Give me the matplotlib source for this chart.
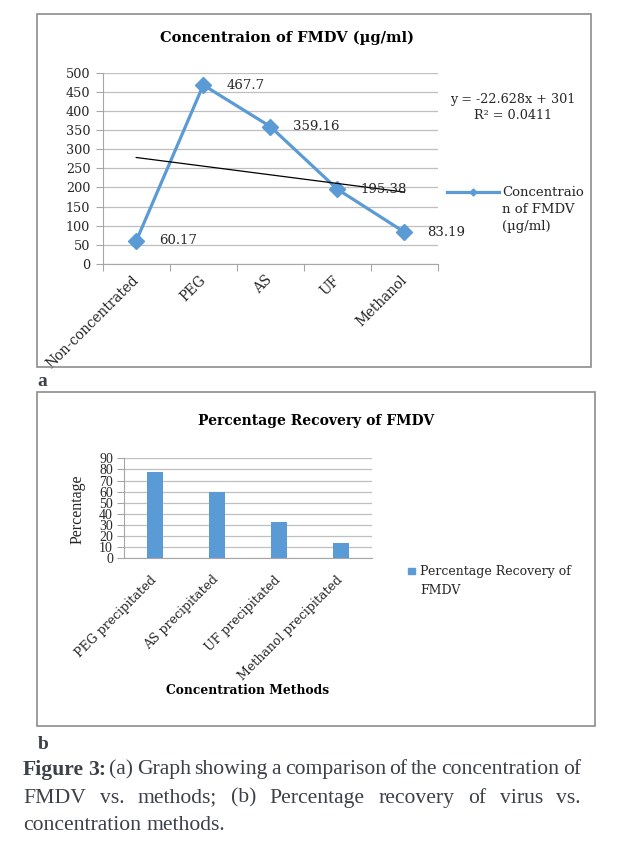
import numpy as np
import matplotlib
matplotlib.use("Agg")
import matplotlib.pyplot as plt
from matplotlib.lines import Line2D
from matplotlib.patches import Rectangle

# --- Data ---
methods_a = ["Non-concentrated", "PEG", "AS", "UF", "Methanol"]
conc = [60.17, 467.7, 359.16, 195.38, 83.19]
conc_labels = ["60.17", "467.7", "359.16", "195.38", "83.19"]

methods_b = ["PEG precipitated", "AS precipitated", "UF precipitated", "Methanol precipitated"]
recovery = [77.6, 59.6, 32.3, 13.9]

W, H = 623, 847
BLUE = "#5B9BD5"
GRID = "#BFBFBF"
AXIS = "#A6A6A6"
TXT = "#262626"
CAP = "#3c4048"

plt.rcParams['font.family'] = ['DejaVu Serif']


def fx(x):
    return x / W


def fy(y):
    return 1 - y / H


fig = plt.figure(figsize=(W / 100, H / 100), dpi=100)
fig.patch.set_facecolor("white")

# --- panel frames ---
for (x0, y0, x1, y1) in [(37.3, 14.3, 590.7, 366.7), (37.3, 392.3, 595, 726)]:
    fig.add_artist(Rectangle((fx(x0), fy(y1)), (x1 - x0) / W, (y1 - y0) / H,
                             transform=fig.transFigure, fill=False,
                             edgecolor="#8c8c8c", lw=1.2))

# --- Panel a: concentration line chart ---
ax1 = fig.add_axes([fx(102.7), fy(264), (438 - 102.7) / W, (264 - 72.7) / H])
x = np.arange(len(methods_a))
ax1.plot(x, conc, color=BLUE, lw=2.3, marker='D', ms=8, zorder=3, clip_on=False)

slope, intercept = np.polyfit(x + 1, conc, 1)
fit = intercept + slope * (x + 1)
r2 = 1 - np.sum((np.array(conc) - fit) ** 2) / np.sum((np.array(conc) - np.mean(conc)) ** 2)
ax1.plot(x, fit, color="black", lw=0.9, zorder=4)

for xi, v, lbl in zip(x, conc, conc_labels):
    ax1.annotate(lbl, (xi, v), xytext=(23, 0), textcoords='offset pixels',
                 ha='left', va='center', fontsize=9.5, color=TXT, zorder=5)

ax1.set_xlim(-0.5, len(methods_a) - 0.5)
ax1.set_ylim(0, 500)
ax1.set_yticks(np.arange(0, 501, 50))
ax1.yaxis.grid(True, color=GRID, lw=0.9)
ax1.set_axisbelow(True)
ax1.set_xticks(np.arange(-0.5, len(methods_a), 1))
ax1.set_xticklabels([])
ax1.set_xticks(x, minor=True)
ax1.set_xticklabels(methods_a, minor=True, rotation=45, ha='right', va='center',
                    rotation_mode='anchor', fontsize=9.8, color=TXT)
ax1.tick_params(axis='x', which='minor', length=0, pad=10)
ax1.tick_params(axis='x', which='major', length=5, color=AXIS, direction='out')
ax1.tick_params(axis='y', length=5, color=AXIS, labelsize=9.2, labelcolor=TXT, pad=4)
for s in ['top', 'right']:
    ax1.spines[s].set_visible(False)
for s in ['left', 'bottom']:
    ax1.spines[s].set_color(AXIS)

fig.text(fx(287), fy(37.5), "Concentraion of FMDV (µg/ml)", ha='center', va='center',
         fontsize=10.5, fontweight='bold', color='black')
fig.text(fx(513), fy(99.3), f"y = {slope:.3f}x + {intercept:.0f}", ha='center', va='center',
         fontsize=9.2, color=TXT)
fig.text(fx(513), fy(115.7), f"R² = {r2:.4f}", ha='center', va='center',
         fontsize=9.2, color=TXT)

# legend a
fig.add_artist(Line2D([fx(446.7), fx(499)], [fy(192.3)] * 2, transform=fig.transFigure,
                      color=BLUE, lw=2.3))
fig.add_artist(Line2D([fx(472.7)], [fy(192.3)], transform=fig.transFigure,
                      color=BLUE, marker='D', ms=3.5))
for yy, t in zip([192.3, 209.5, 226.7], ["Concentraio", "n of FMDV", "(µg/ml)"]):
    fig.text(fx(502), fy(yy), t, ha='left', va='center', fontsize=9.5, color=TXT)

# --- Panel b: percentage recovery bar chart ---
ax2 = fig.add_axes([fx(124), fy(558.3), (372 - 124) / W, 100 / H])
xb = np.arange(len(methods_b))
ax2.bar(xb, recovery, width=0.26, color=BLUE, zorder=3)
ax2.set_xlim(-0.5, len(methods_b) - 0.5)
ax2.set_ylim(0, 90)
ax2.set_yticks(np.arange(0, 91, 10))
ax2.set_yticklabels([str(v) for v in range(0, 91, 10)], family='Liberation Serif',
                    fontsize=10, color=TXT)
ax2.yaxis.grid(True, color=GRID, lw=0.9)
ax2.set_axisbelow(True)
ax2.set_xticks(xb)
ax2.set_xticklabels(methods_b, rotation=45, ha='right', va='center',
                    rotation_mode='anchor', fontsize=9, color=TXT)
ax2.tick_params(axis='x', length=0, pad=14)
ax2.tick_params(axis='y', length=5, color=AXIS, pad=3)
for s in ['top', 'right']:
    ax2.spines[s].set_visible(False)
for s in ['left', 'bottom']:
    ax2.spines[s].set_color(AXIS)

fig.text(fx(78), fy(509), "Percentage", rotation=90, ha='center', va='center',
         family='Liberation Serif', fontsize=11.5, color=TXT)

fig.text(fx(316), fy(421), "Percentage Recovery of FMDV", ha='center', va='center',
         fontsize=10, fontweight='bold', color='black')
fig.text(fx(248), fy(690.7), "Concentration Methods", ha='center', va='center',
         fontsize=8.8, fontweight='bold', color='black')

# legend b
fig.add_artist(Rectangle((fx(408.3), fy(574.3)), 6.7 / W, 6 / H, transform=fig.transFigure,
                         color=BLUE))
fig.text(fx(420), fy(571), "Percentage Recovery of", ha='left', va='center', fontsize=9, color=TXT)
fig.text(fx(420), fy(590), "FMDV", ha='left', va='center', fontsize=9, color=TXT)

# --- panel letters and caption ---
fig.text(fx(37), fy(381), "a", ha='left', va='center', fontsize=14, fontweight='bold',
         family='Liberation Serif', color=CAP)
fig.text(fx(38), fy(744), "b", ha='left', va='center', fontsize=14, fontweight='bold',
         family='Liberation Serif', color=CAP)

renderer = fig.canvas.get_renderer()


def justify(words, y, x0, x1, spread=True):
    texts = []
    for w, bold in words:
        texts.append(fig.text(0, fy(y), w, ha='left', va='center', fontsize=15.6,
                              family='Liberation Serif', color=CAP,
                              fontweight='bold' if bold else 'normal'))
    widths = [t.get_window_extent(renderer).width for t in texts]
    space = texts[0].get_fontsize() * 0.25 * 100 / 72
    gap = (x1 - x0 - sum(widths)) / (len(words) - 1) if spread else space
    xx = x0
    for t, w in zip(texts, widths):
        t.set_x(fx(xx))
        xx += w + gap


line1 = [("Figure", True), ("3:", True)] + [(w, False) for w in
         "(a) Graph showing a comparison of the concentration of".split()]
line2 = [(w, False) for w in "FMDV vs. methods; (b) Percentage recovery of virus vs.".split()]
line3 = [(w, False) for w in "concentration methods.".split()]
justify(line1, 769.7, 23, 581)
justify(line2, 798, 23, 581)
justify(line3, 825, 23, 581, spread=False)

fig.savefig("out.png", dpi=100, facecolor="white")
